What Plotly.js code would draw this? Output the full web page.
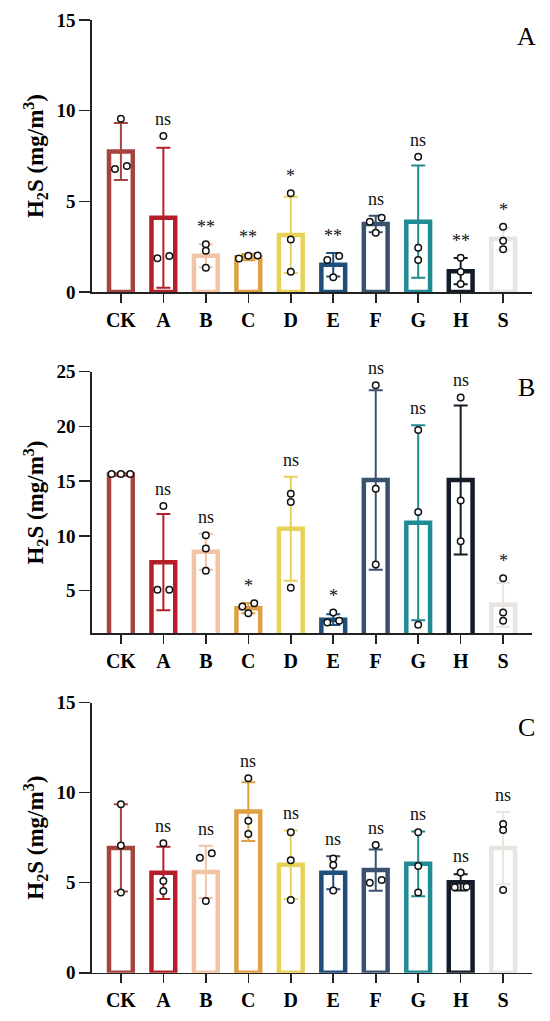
<!DOCTYPE html>
<html>
<head>
<meta charset="utf-8">
<script src="https://cdn.plot.ly/plotly-3.0.1.min.js"></script>
<style>html,body{margin:0;padding:0;background:#fff;}#chart{width:550px;height:1021px;}</style>
</head>
<body>
<div id="chart"></div>
<script>
// ---------- data ----------
const categories = ['CK','A','B','C','D','E','F','G','H','S'];
const barColors = ['#A5443F','#B3202A','#F3C3A6','#DFA043','#E9D158','#1F4E7A','#3A5170','#1F8C94','#141B29','#E8E4DF'];

// Panel A
const meanA = [7.75, 4.10, 2.00, 1.92, 3.15, 1.50, 3.75, 3.88, 1.15, 2.93];
const sdA   = [1.57, 3.86, 0.64, 0.17, 2.10, 0.65, 0.45, 3.10, 0.72, 0.63];
const ptsA  = [[9.55,6.78,6.95],[8.60,1.86,1.99],[2.63,2.28,1.34],[2.02,1.85,2.00],[5.44,2.90,1.12],
               [1.99,1.77,0.81],[4.10,3.88,3.27],[7.46,2.44,1.77],[1.89,1.12,0.44],[3.60,2.83,2.36]];
const sigA  = ['', 'ns','**','**','*','**','ns','ns','**','*'];

// Panel B
const meanB = [15.60, 7.60, 8.55, 3.40, 10.65, 2.35, 15.10, 11.20, 15.10, 3.70];
const sdB   = [0.05, 4.40, 1.65, 0.47, 4.75, 0.50, 8.20, 8.90, 6.80, 2.00];
const ptsB  = [[15.65,15.65,15.65],[12.73,5.09,5.09],[10.06,8.85,6.82],[3.85,3.55,2.94],[13.85,13.10,5.27],
               [3.00,2.09,2.24],[23.76,14.30,7.39],[19.67,12.18,1.88],[22.64,13.24,9.52],[6.12,3.00,2.24]];
const sigB  = ['', 'ns','ns','*','ns','*','ns','ns','ns','*'];

// Panel C
const meanC = [6.93, 5.55, 5.60, 8.95, 6.00, 5.55, 5.70, 6.05, 5.02, 6.92];
const sdC   = [2.42, 1.45, 1.45, 1.63, 1.90, 0.92, 1.15, 1.80, 0.45, 2.00];
const ptsC  = [[9.35,7.07,4.46],[7.19,5.09,4.54],[6.63,6.39,3.98],[10.80,8.44,7.70],[7.80,6.24,4.04],
               [6.35,5.98,4.56],[7.09,5.15,5.00],[7.80,5.93,4.46],[5.56,4.74,4.78],[8.26,7.93,4.59]];
const sigC  = ['', 'ns','ns','ns','ns','ns','ns','ns','ns','ns'];

const panelLetters = ['A','B','C'];
const yRanges = [[0,15],[1.1,25],[0,15]];
const yTicks  = [[0,5,10,15],[5,10,15,20,25],[0,5,10,15]];

// ---------- layout helpers ----------
const H = 1021;
const xDomain = [0.1673, 0.9673];
const yDomains = [[0.7140,0.9804],[0.3797,0.6360],[0.0473,0.3118]];
const letterY = [0.9638, 0.620, 0.287];
const serif = 'Liberation Serif, Times New Roman, serif';

const panels = [
  {mean:meanA, sd:sdA, pts:ptsA, sig:sigA},
  {mean:meanB, sd:sdB, pts:ptsB, sig:sigB},
  {mean:meanC, sd:sdC, pts:ptsC, sig:sigC}
];

// spread nearly-overlapping points horizontally (beeswarm-like)
function offsets(vals, thr){
  const idx = vals.map((v,i)=>i).sort((a,b)=>vals[a]-vals[b]);
  const off = new Array(vals.length).fill(0);
  let clusters = [], cur = [idx[0]];
  for(let k=1;k<idx.length;k++){
    if(vals[idx[k]]-vals[idx[k-1]] < thr) cur.push(idx[k]); else {clusters.push(cur); cur=[idx[k]];}
  }
  clusters.push(cur);
  clusters.forEach(c=>{
    if(c.length===2){ off[c[0]]=-0.14; off[c[1]]=0.14; }
    else if(c.length>=3){ c.forEach((j,m)=>{ off[j] = -0.22 + 0.44*m/(c.length-1); }); }
  });
  return off;
}

const traces = [];
const annotations = [];
const layout = {
  width:550, height:1021,
  margin:{l:0,r:0,t:0,b:0},
  paper_bgcolor:'#fff', plot_bgcolor:'#fff',
  showlegend:false,
  font:{family:serif, color:'#000'}
};

panels.forEach((p,pi)=>{
  const xa = pi===0 ? 'x' : 'x'+(pi+1);
  const ya = pi===0 ? 'y' : 'y'+(pi+1);
  const xk = pi===0 ? 'xaxis' : 'xaxis'+(pi+1);
  const yk = pi===0 ? 'yaxis' : 'yaxis'+(pi+1);
  const span = yRanges[pi][1]-yRanges[pi][0];
  const pxPerUnit = (yDomains[pi][1]-yDomains[pi][0])*H/span;
  const thr = 5/pxPerUnit;

  categories.forEach((c,i)=>{
    traces.push({
      type:'bar', x:[i], y:[p.mean[i]], width:0.56, xaxis:xa, yaxis:ya,
      marker:{color:'#ffffff', line:{color:barColors[i], width:4.5}},
      error_y:{type:'data', array:[p.sd[i]], visible:true, color:barColors[i], thickness:2, width:7},
      hoverinfo:'skip'
    });
  });

  const px=[], py=[];
  p.pts.forEach((vals,i)=>{
    const off = offsets(vals, thr);
    vals.forEach((v,k)=>{ px.push(i+off[k]); py.push(v); });
  });
  traces.push({
    type:'scatter', mode:'markers', x:px, y:py, xaxis:xa, yaxis:ya,
    marker:{symbol:'circle', size:6.5, color:'#ffffff', line:{color:'#111', width:1.5}},
    hoverinfo:'skip', cliponaxis:false
  });

  p.sig.forEach((s,i)=>{
    if(!s) return;
    const top = Math.max(Math.max(...p.pts[i]), p.mean[i]+p.sd[i]);
    annotations.push({
      xref:xa, yref:ya, x:i, y:top, text:s, showarrow:false,
      yanchor:'bottom', xanchor:'center', yshift:5,
      font:{family:serif, size:18, color:'#111'}
    });
  });

  annotations.push({
    xref:'paper', yref:'paper', x:0.958, y:letterY[pi], text:panelLetters[pi],
    showarrow:false, xanchor:'center', yanchor:'middle',
    font:{family:serif, size:26, color:'#000'}
  });

  layout[xk] = {
    domain:xDomain, anchor:ya, range:[-0.68,9.68],
    tickmode:'array', tickvals:categories.map((c,i)=>i), ticktext:categories,
    ticks:'outside', ticklen:9, tickwidth:1.6, tickcolor:'#222',
    showline:true, linecolor:'#222', linewidth:1.6,
    showgrid:false, zeroline:false, fixedrange:true,
    tickfont:{family:serif, size:20, color:'#000', weight:'bold'}
  };
  layout[yk] = {
    domain:yDomains[pi], anchor:xa, range:yRanges[pi],
    tickmode:'array', tickvals:yTicks[pi],
    ticks:'outside', ticklen:11, tickwidth:1.6, tickcolor:'#222',
    showline:true, linecolor:'#222', linewidth:1.6,
    showgrid:false, zeroline:false, fixedrange:true,
    tickfont:{family:serif, size:19, color:'#000', weight:'bold'},
    title:{text:'H<sub>2</sub>S (mg/m<sup>3</sup>)', standoff:6,
           font:{family:serif, size:23, color:'#000', weight:'bold'}}
  };
});

layout.annotations = annotations;
Plotly.newPlot('chart', traces, layout, {staticPlot:true, displayModeBar:false});
</script>
</body>
</html>
